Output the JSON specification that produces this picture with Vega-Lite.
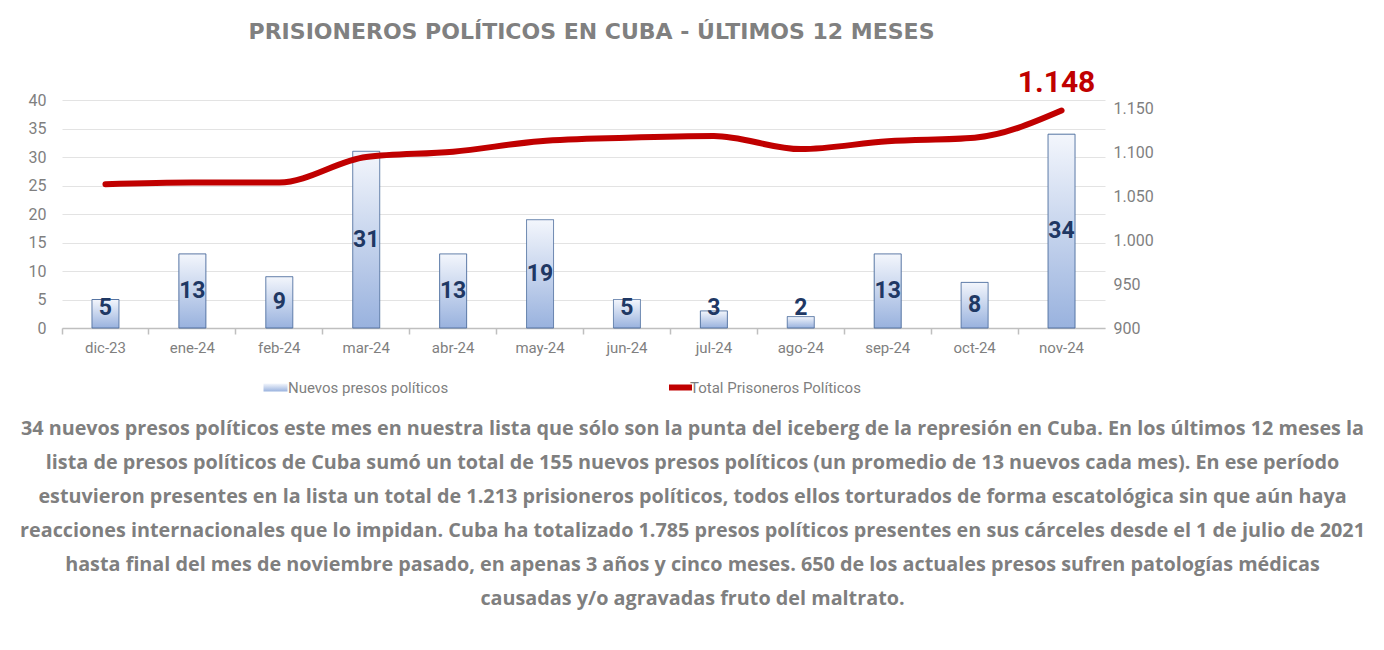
{
  "$schema": "https://vega.github.io/schema/vega-lite/v6.json",
  "autosize": {"type": "none"},
  "padding": {"left": 62, "top": 100, "right": 279, "bottom": 322},
  "width": 1043,
  "height": 228,
  "config": {
    "view": {"stroke": null},
    "locale": {"number": {"decimal": ",", "thousands": ".", "grouping": [3], "currency": ["", "€"]}},
    "font": "Roboto"
  },
  "title": {
    "text": "PRISIONEROS POLÍTICOS EN CUBA - ÚLTIMOS 12 MESES",
    "frame": "group",
    "anchor": "middle",
    "dx": 8,
    "offset": 7,
    "baseline": "alphabetic",
    "font": "DejaVu Sans",
    "fontSize": 22,
    "fontWeight": "bold",
    "color": "#808080"
  },
  "data": {
    "values": [
      {"mes": "dic-23", "n": 5, "total": 1064},
      {"mes": "ene-24", "n": 13, "total": 1066},
      {"mes": "feb-24", "n": 9, "total": 1066},
      {"mes": "mar-24", "n": 31, "total": 1095},
      {"mes": "abr-24", "n": 13, "total": 1101},
      {"mes": "may-24", "n": 19, "total": 1113},
      {"mes": "jun-24", "n": 5, "total": 1117},
      {"mes": "jul-24", "n": 3, "total": 1119},
      {"mes": "ago-24", "n": 2, "total": 1104},
      {"mes": "sep-24", "n": 13, "total": 1113},
      {"mes": "oct-24", "n": 8, "total": 1117},
      {"mes": "nov-24", "n": 34, "total": 1148}
    ]
  },
  "layer": [
    {
      "layer": [
        {
          "mark": {
            "type": "bar", "size": 27, "stroke": "#4f6f9f", "strokeWidth": 1,
            "fill": {"gradient": "linear", "x1": 0, "y1": 0, "x2": 0, "y2": 1, "stops": [{"offset": 0, "color": "#f3f6fc"}, {"offset": 1, "color": "#99b2de"}]}
          },
          "encoding": {
            "x": {
              "field": "mes", "type": "nominal", "sort": null,
              "scale": {"paddingInner": 0, "paddingOuter": 0},
              "axis": {
                "title": null, "orient": "bottom", "ticks": false, "domain": true,
                "domainColor": "#bfbfbf", "domainWidth": 1.5,
                "labelColor": "#7f7f7f", "labelFontSize": 15, "labelPadding": 12, "labelAngle": 0
              }
            },
            "y": {
              "field": "n", "type": "quantitative",
              "scale": {"domain": [0, 40]},
              "axis": {
                "title": null, "values": [0, 5, 10, 15, 20, 25, 30, 35, 40], "labelOverlap": false,
                "grid": true, "gridColor": "#e3e3e3", "domain": false, "ticks": false,
                "labelColor": "#7f7f7f", "labelFontSize": 16, "labelPadding": 16
              }
            },
            "strokeDash": {
              "datum": "Nuevos presos políticos",
              "type": "nominal",
              "scale": {"range": [[1, 0]]},
              "legend": {
                "title": null, "orient": "none", "legendX": 205, "legendY": 279,
                "symbolType": "M-1.5,-0.5H1.5V0.5H-1.5Z", "symbolSize": 256,
                "symbolFillColor": "#b7c9e8", "symbolStrokeColor": "#4f6f9f", "symbolStrokeWidth": 1,
                "labelOffset": 4, "labelFontSize": 15, "labelColor": "#7f7f7f", "labelLimit": 400
              }
            }
          }
        },
        {
          "transform": [{"calculate": "max(datum.n / 2, 3.5)", "as": "ly"}],
          "mark": {"type": "text", "fontSize": 23, "fontWeight": "bold", "color": "#1f3864", "baseline": "middle"},
          "encoding": {
            "x": {"field": "mes", "type": "nominal", "sort": null},
            "y": {
              "field": "ly", "type": "quantitative",
              "axis": {
                "title": null, "values": [0, 5, 10, 15, 20, 25, 30, 35, 40], "labelOverlap": false,
                "grid": true, "gridColor": "#e3e3e3", "domain": false, "ticks": false,
                "labelColor": "#7f7f7f", "labelFontSize": 16, "labelPadding": 16
              }
            },
            "text": {"field": "n", "type": "quantitative"}
          }
        }
      ]
    },
    {
      "layer": [
        {
          "mark": {"type": "line", "strokeWidth": 6, "interpolate": "monotone", "strokeCap": "round"},
          "encoding": {
            "x": {
              "field": "mes", "type": "nominal", "sort": null,
              "axis": {
                "orient": "bottom", "bandPosition": 0, "labels": false,
                "domain": false, "ticks": true, "tickSize": 6, "tickColor": "#bfbfbf", "tickWidth": 1.5,
                "title": [
                  "34 nuevos presos políticos este mes en nuestra lista que sólo son la punta del iceberg de la represión en Cuba. En los últimos 12 meses la",
                  "lista de presos políticos de Cuba sumó un total de 155 nuevos presos políticos (un promedio de 13 nuevos cada mes). En ese período",
                  "estuvieron presentes en la lista un total de 1.213 prisioneros políticos, todos ellos torturados de forma escatológica sin que aún haya",
                  "reacciones internacionales que lo impidan. Cuba ha totalizado 1.785 presos políticos presentes en sus cárceles desde el 1 de julio de 2021",
                  "hasta final del mes de noviembre pasado, en apenas 3 años y cinco meses. 650 de los actuales presos sufren patologías médicas",
                  "causadas y/o agravadas fruto del maltrato."
                ],
                "titleFontSize": 19.8, "titleFontWeight": "bold", "titleColor": "#7f7f7f", "titleFont": "Open Sans",
                "titleLineHeight": 34, "titleBaseline": "top", "titleX": 630, "titleAlign": "center",
                "titlePadding": 84
              }
            },
            "y": {
              "field": "total", "type": "quantitative",
              "scale": {"domain": [900, 1160], "nice": false, "zero": false},
              "axis": {
                "title": null, "orient": "right", "values": [900, 950, 1000, 1050, 1100, 1150], "labelOverlap": false,
                "format": ",d", "grid": false, "domain": false, "ticks": false,
                "labelColor": "#7f7f7f", "labelFontSize": 16, "labelPadding": 8
              }
            },
            "stroke": {
              "datum": "Total Prisoneros Políticos",
              "type": "nominal",
              "scale": {"range": ["#c00000"]},
              "legend": {
                "title": null, "orient": "none", "legendX": 604, "legendY": 273,
                "symbolType": "stroke", "symbolSize": 529, "symbolStrokeWidth": 6,
                "labelOffset": -5, "labelFontSize": 15, "labelColor": "#7f7f7f", "labelLimit": 400
              }
            }
          }
        },
        {
          "transform": [{"filter": "datum.mes == 'nov-24'"}],
          "mark": {"type": "text", "fontSize": 30, "fontWeight": "bold", "color": "#c00000", "dy": -28, "dx": -5, "baseline": "middle"},
          "encoding": {
            "x": {"field": "mes", "type": "nominal", "sort": null},
            "y": {
              "field": "total", "type": "quantitative",
              "axis": {
                "title": null, "orient": "right", "values": [900, 950, 1000, 1050, 1100, 1150], "labelOverlap": false,
                "format": ",d", "grid": false, "domain": false, "ticks": false,
                "labelColor": "#7f7f7f", "labelFontSize": 16, "labelPadding": 8
              }
            },
            "text": {"field": "total", "type": "quantitative", "format": ",d"}
          }
        }
      ]
    }
  ],
  "resolve": {"scale": {"y": "independent"}, "axis": {"x": "independent", "y": "independent"}}
}
